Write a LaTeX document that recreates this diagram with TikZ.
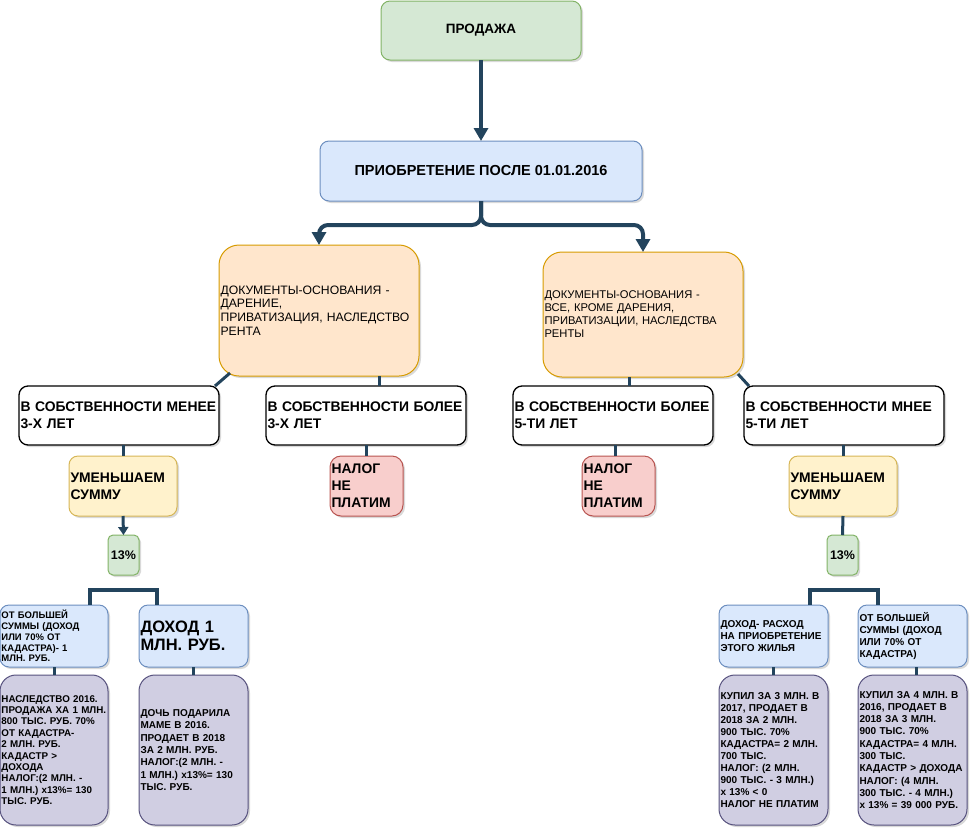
\documentclass[tikz,border=0pt]{standalone}
\usepackage{fontspec}
\setmainfont{Liberation Sans}
\usetikzlibrary{arrows.meta,shadows,calc}
\definecolor{lnk}{HTML}{23445D}
\definecolor{gfill}{HTML}{D5E8D4}\definecolor{gline}{HTML}{82B366}
\definecolor{bfill}{HTML}{DAE8FC}\definecolor{bline}{HTML}{6C8EBF}
\definecolor{ofill}{HTML}{FFE6CC}\definecolor{oline}{HTML}{D79B00}
\definecolor{yfill}{HTML}{FFF2CC}\definecolor{yline}{HTML}{D6B656}
\definecolor{rfill}{HTML}{F8CECC}\definecolor{rline}{HTML}{B85450}
\definecolor{pfill}{HTML}{D0CEE2}\definecolor{pline}{HTML}{56517E}
\newcommand{\myfs}[2]{\fontsize{#1pt}{#2pt}\selectfont}
\begin{document}
\begin{tikzpicture}[x=1pt,y=-1pt,
  bx/.style={line width=1pt, inner sep=1.5pt, outer sep=0pt,
    drop shadow={shadow xshift=2pt, shadow yshift=-2pt, opacity=0.3}},
  gbox/.style={bx, draw=gline, fill=gfill},
  bbox/.style={bx, draw=bline, fill=bfill},
  obox/.style={bx, draw=oline, fill=ofill},
  ybox/.style={bx, draw=yline, fill=yfill},
  rbox/.style={bx, draw=rline, fill=rfill},
  pbox/.style={bx, draw=pline, fill=pfill},
  wbox/.style={bx, draw=black, fill=white, line width=1.3pt},
  arr/.style={draw=lnk, line width=4pt, -{Triangle[length=13pt,width=14pt]}},
  arrs/.style={draw=lnk, line width=3pt, -{Triangle[length=8pt,width=10pt]}},
  ln3/.style={draw=lnk, line width=3pt},
  ln4/.style={draw=lnk, line width=4pt}]
\useasboundingbox (0,0) rectangle (971,830);

% top
\node[gbox, minimum width=200pt, minimum height=59pt, rounded corners=9pt, align=center,
  font=\bfseries\myfs{13.5}{16}] (prod) at (481,30.5) {ПРОДАЖА};
\node[bbox, minimum width=322pt, minimum height=60pt, rounded corners=9pt, align=center,
  font=\bfseries\myfs{14.5}{17}] (acq) at (481,171) {ПРИОБРЕТЕНИЕ ПОСЛЕ 01.01.2016};

% documents
\node[obox, minimum width=200pt, minimum height=131pt, rounded corners=20pt, text width=197pt, align=left,
  font=\myfs{12.2}{13.7}] (docL) at (319,310.5)
  {ДОКУМЕНТЫ-ОСНОВАНИЯ -\\ДАРЕНИЕ,\\ПРИВАТИЗАЦИЯ, НАСЛЕДСТВО\\РЕНТА};
\node[obox, minimum width=200pt, minimum height=125pt, rounded corners=19pt, text width=197pt, align=left,
  font=\myfs{11.2}{13}] (docR) at (643,314.5)
  {ДОКУМЕНТЫ-ОСНОВАНИЯ -\\ВСЕ, КРОМЕ ДАРЕНИЯ,\\ПРИВАТИЗАЦИИ, НАСЛЕДСТВА\\РЕНТЫ};

% ownership
\tikzset{own/.style={wbox, minimum width=200pt, minimum height=59pt, rounded corners=9pt,
  text width=197pt, align=left, font=\bfseries\myfs{13.9}{17}}}
\node[own] (own1) at (119,415.5) {В СОБСТВЕННОСТИ МЕНЕЕ\\3-Х ЛЕТ};
\node[own] (own2) at (366,415.5) {В СОБСТВЕННОСТИ БОЛЕЕ\\3-Х ЛЕТ};
\node[own] (own3) at (613,415.5) {В СОБСТВЕННОСТИ БОЛЕЕ\\5-ТИ ЛЕТ};
\node[own] (own4) at (844,415.5) {В СОБСТВЕННОСТИ МНЕЕ\\5-ТИ ЛЕТ};

% third row
\tikzset{nopay/.style={rbox, minimum width=73pt, minimum height=60pt, rounded corners=11pt,
  text width=70pt, align=left, font=\bfseries\myfs{13.9}{17}}}
\tikzset{reduce/.style={ybox, minimum width=108pt, minimum height=60pt, rounded corners=9pt,
  text width=105pt, align=left, font=\bfseries\myfs{13.9}{17}}}
\node[reduce] (yel1) at (123,486) {УМЕНЬШАЕМ\\СУММУ};
\node[nopay] (red1) at (366.5,486) {НАЛОГ\\НЕ\\ПЛАТИМ};
\node[nopay] (red2) at (618.5,486) {НАЛОГ\\НЕ\\ПЛАТИМ};
\node[reduce] (yel2) at (843,486) {УМЕНЬШАЕМ\\СУММУ};

% 13%
\tikzset{pct/.style={gbox, minimum width=31pt, minimum height=40pt, rounded corners=5pt,
  inner sep=0pt, align=center, font=\bfseries\myfs{12.5}{15}}}
\node[pct] (pct1) at (123.5,555) {13\%};
\node[pct] (pct2) at (842.5,555) {13\%};

% blue row
\tikzset{bsm/.style={bbox, minimum width=109pt, minimum height=62pt, rounded corners=9pt,
  text width=106pt, align=left}}
\node[bsm, minimum width=108pt, text width=105pt, font=\bfseries\myfs{9.5}{10.8}] (bl1) at (54,636)
  {ОТ БОЛЬШЕЙ\\СУММЫ (ДОХОД\\ИЛИ 70\% ОТ\\КАДАСТРА)- 1\\МЛН. РУБ.};
\node[bsm, font=\bfseries\myfs{16.5}{17.5}] (bl2) at (193.5,636) {ДОХОД 1\\МЛН. РУБ.};
\node[bsm, font=\bfseries\myfs{10}{11.7}] (br1) at (773.5,636)
  {ДОХОД- РАСХОД\\НА ПРИОБРЕТЕНИЕ\\ЭТОГО ЖИЛЬЯ};
\node[bsm, font=\bfseries\myfs{10}{11.8}] (br2) at (912.5,636)
  {ОТ БОЛЬШЕЙ\\СУММЫ (ДОХОД\\ИЛИ 70\% ОТ\\КАДАСТРА)};

% purple row
\tikzset{psm/.style={pbox, minimum width=109pt, minimum height=150pt, rounded corners=16pt,
  text width=106pt, align=left}}
\node[psm, minimum width=108pt, text width=105pt, font=\bfseries\myfs{9.8}{11.4}] (pu1) at (54,750)
  {НАСЛЕДСТВО 2016.\\ПРОДАЖА ХА 1 МЛН.\\800 ТЫС. РУБ. 70\%\\ОТ КАДАСТРА-\\2 МЛН. РУБ.\\КАДАСТР >\\ДОХОДА\\НАЛОГ:(2 МЛН. -\\1 МЛН.) x13\%= 130\\ТЫС. РУБ.};
\node[psm, font=\bfseries\myfs{10}{12.4}] (pu2) at (193.5,750)
  {ДОЧЬ ПОДАРИЛА\\МАМЕ В 2016.\\ПРОДАЕТ В 2018\\ЗА 2 МЛН. РУБ.\\НАЛОГ:(2 МЛН. -\\1 МЛН.) x13\%= 130\\ТЫС. РУБ.};
\node[psm, font=\bfseries\myfs{10}{11.9}] (pu3) at (773.5,750)
  {КУПИЛ ЗА 3 МЛН. В\\2017, ПРОДАЕТ В\\2018 ЗА 2 МЛН.\\900 ТЫС. 70\%\\КАДАСТРА= 2 МЛН.\\700 ТЫС.\\НАЛОГ: (2 МЛН.\\900 ТЫС. - 3 МЛН.)\\x 13\% < 0\\НАЛОГ НЕ ПЛАТИМ};
\node[psm, font=\bfseries\myfs{10}{12.3}] (pu4) at (912.5,750)
  {КУПИЛ ЗА 4 МЛН. В\\2016, ПРОДАЕТ В\\2018 ЗА 3 МЛН.\\900 ТЫС. 70\%\\КАДАСТРА= 4 МЛН.\\300 ТЫС.\\КАДАСТР > ДОХОДА\\НАЛОГ: (4 МЛН.\\300 ТЫС. - 4 МЛН.)\\x 13\% = 39 000 РУБ.};

% connectors
\draw[arr] (prod.south) -- (acq.north);
\draw[arr, rounded corners=9pt] (acq.south) -- ++(0,24) -| (docL.north);
\draw[arr, rounded corners=9pt] (acq.south) -- ++(0,24) -| (docR.north);

\draw[ln3] ($(docL.south west)+(11,-3)$) -- ($(own1.north east)+(-4,0)$);
\draw[ln3] ($(docL.south)+(60,0)$) -- ($(own2.north)+(13,0)$);
\draw[ln3] ($(docR.south)+(-14,0)$) -- ($(own3.north)+(16,0)$);
\draw[ln3] ($(docR.south east)+(-5,-3)$) -- ($(own4.north west)+(5,0)$);

\draw[ln3] (yel1.north |- own1.south) -- (yel1.north);
\draw[ln3] (red1.north |- own2.south) -- (red1.north);
\draw[ln3] ($(own3.south)+(2,0)$) -- ($(red2.north)+(-3.5,0)$);
\draw[ln3] (yel2.north |- own4.south) -- (yel2.north);

\draw[arrs] (yel1.south) -- (pct1.north);
\draw[ln3] (yel2.south) -- (pct2.north);

\draw[ln4] ($(bl1.north)+(36,0)$) -- ++(0,-15) -| ($(bl2.north)+(-36.5,0)$);
\draw[ln4] ($(br1.north)+(36.5,0)$) -- ++(0,-15) -| ($(br2.north)+(-34.5,0)$);

\draw[ln3] (bl1.south) -- (pu1.north);
\draw[ln3] (bl2.south) -- (pu2.north);
\draw[ln3] (br1.south) -- (pu3.north);
\draw[ln3] ($(br2.south)+(4,0)$) -- ($(pu4.north)+(4,0)$);
\end{tikzpicture}
\end{document}
